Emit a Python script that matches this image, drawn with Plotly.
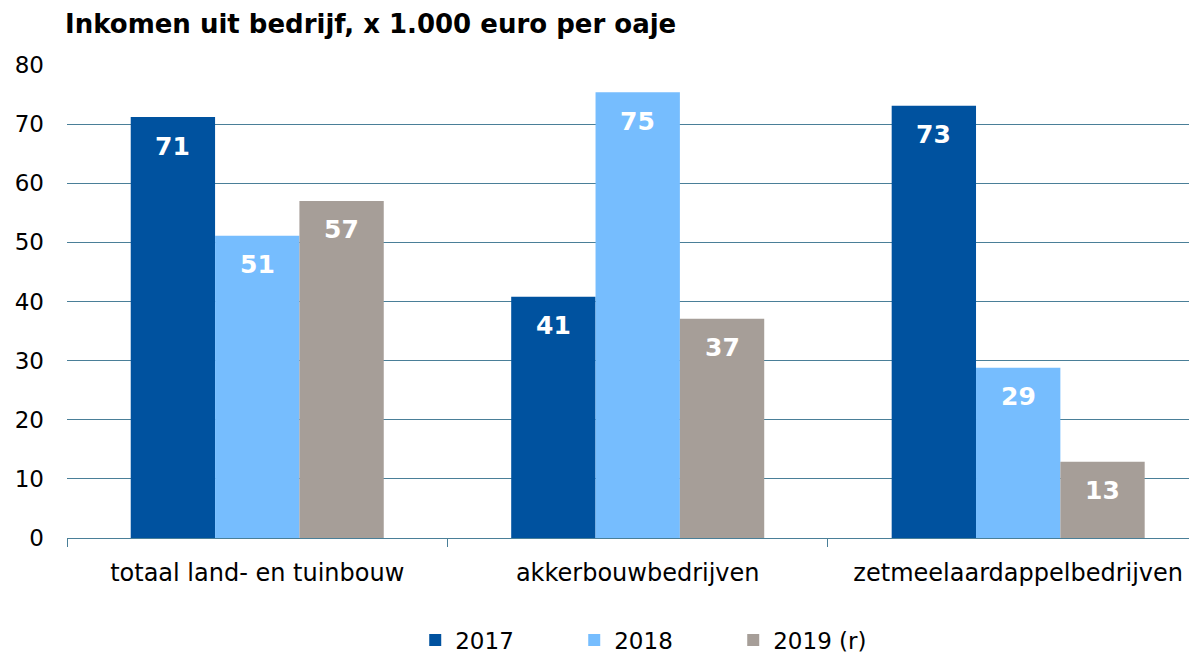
import plotly.graph_objects as go

categories = ["totaal land- en tuinbouw", "akkerbouwbedrijven", "zetmeelaardappelbedrijven"]
series_names = ["2017", "2018", "2019 (r)"]
values_2017 = [71.2, 40.8, 73.1]
values_2018 = [51.1, 75.4, 28.8]
values_2019 = [57.0, 37.1, 12.9]
y_ticks = [0, 10, 20, 30, 40, 50, 60, 70, 80]

colors = ["#00529F", "#76BDFE", "#A69E98"]
all_values = [values_2017, values_2018, values_2019]

FONT = "DejaVu Sans"
bargap = 0.335
fig = go.Figure()
for name, vals, col in zip(series_names, all_values, colors):
    fig.add_trace(go.Bar(x=categories, y=vals, name=name, marker=dict(color=col, line=dict(width=0))))

bar_w = (1 - bargap) / len(series_names)
for si, vals in enumerate(all_values):
    for ci, v in enumerate(vals):
        fig.add_annotation(x=ci + (si - 1) * bar_w, y=v, xref="x", yref="y",
                           text=f"<b>{round(v)}</b>", showarrow=False, yshift=-29,
                           font=dict(family=FONT, size=25, color="white"))

fig.update_layout(
    width=1197, height=655,
    margin=dict(l=59, r=0, t=57, b=125),
    paper_bgcolor="white", plot_bgcolor="white",
    bargap=bargap, bargroupgap=0, barmode="group",
    font=dict(family=FONT, size=22, color="#000000"),
    title=dict(text="<b>Inkomen uit bedrijf, x 1.000 euro per oaje</b>", x=57 / 1197, xanchor="left",
               y=1 - 16 / 655, yanchor="middle", font=dict(family=FONT, size=26, color="#000")),
    xaxis=dict(type="category", range=[-0.5, 2.491], tickson="boundaries", ticks="outside",
               ticklen=8, tickcolor="#4A7F98", showline=True, linecolor="#4A7F98", linewidth=1,
               showgrid=False, tickfont=dict(size=24), ticklabelstandoff=13),
    yaxis=dict(range=[0, 80], tickvals=y_ticks, showgrid=True, gridcolor="#4A7F98", gridwidth=1,
               zeroline=False, showline=False, tickfont=dict(size=23), ticklabelstandoff=22),
    legend=dict(orientation="h", x=0.306, xanchor="left", y=-0.2156, yanchor="middle",
                entrywidth=114, entrywidthmode="pixels", font=dict(size=23), itemwidth=30),
)
fig.write_html("out.html")
